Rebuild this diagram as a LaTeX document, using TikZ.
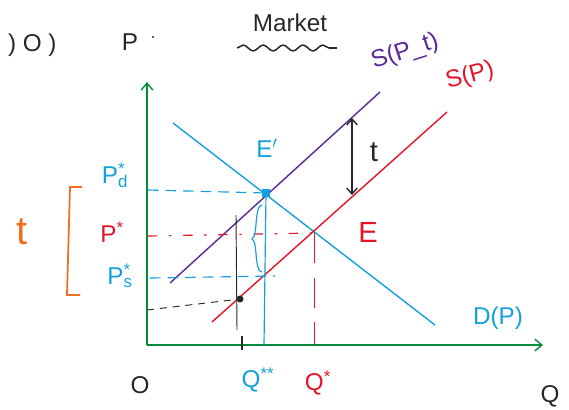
\documentclass[tikz,border=0pt]{standalone}
\usepackage{fontspec}
\setmainfont{Liberation Sans}
\usetikzlibrary{arrows.meta,decorations.pathmorphing,calc}
\definecolor{axgreen}{RGB}{0,140,60}
\definecolor{dblue}{RGB}{20,160,220}
\definecolor{spurple}{RGB}{90,40,150}
\definecolor{sred}{RGB}{230,20,40}
\definecolor{torange}{RGB}{240,110,30}
\definecolor{ink}{RGB}{40,40,40}
\tikzset{
  axis/.style={axgreen,line width=1.2pt,-{Straight Barb[length=6pt,width=10pt]}},
  curve/.style={line width=1.2pt},
  guide/.style={line width=1pt,dash pattern=on 9pt off 6pt},
  lbl/.style={inner sep=1pt,font=\huge},
}
\newcommand{\supsub}[2]{\rlap{\textsuperscript{#1}}\textsubscript{#2}}
\begin{document}
\begin{tikzpicture}[x=0.03cm,y=-0.03cm]
\useasboundingbox (0,0) rectangle (569,409);
% axes
\coordinate (O) at (147,345);
\coordinate (ytop) at (147,82);
\coordinate (xend) at (543,345);
\draw[axis] (O) -- (ytop);
\draw[axis] (O) -- (xend);
% curves
\coordinate (d1) at (173,123); \coordinate (d2) at (435,325);
\coordinate (st1) at (170,283); \coordinate (st2) at (380,92);
\coordinate (s1) at (212,322); \coordinate (s2) at (447,112);
\draw[curve,dblue] (d1) -- (d2);
\draw[curve,spurple] (st1) -- (st2);
\draw[curve,sred] (s1) -- (s2);
% points
\coordinate (Ep) at (266,193);
\coordinate (E) at (314,233);
\coordinate (B) at (240,299);
\fill[dblue] ($(Ep)+(-4,-4)$) rectangle ($(Ep)+(4,4)$);
\fill[ink] (B) circle (3.5);
% guides
\coordinate (yPd) at (148,190);
\coordinate (yP) at (148,236);
\coordinate (yPs) at (150,278);
\coordinate (yB) at (147,310);
\coordinate (xQ2) at (264,345);
\coordinate (xQ) at (314,345);
\coordinate (PsR) at (275,276);
\draw[guide,dblue] (yPd) -- (Ep);
\draw[sred,line width=1pt,dash pattern=on 8pt off 10pt on 2pt off 10pt] (yP) -- (E);
\draw[guide,dblue] (yPs) -- (PsR);
\draw[dblue,line width=1pt] (Ep) -- (xQ2);
\draw[sred,line width=0.8pt,dash pattern=on 26pt off 12pt] (E) -- (xQ);
\draw[ink,line width=0.8pt,dash pattern=on 6pt off 5pt] (yB) -- (B);
\draw[ink,line width=0.8pt] (236,215) -- (237,330);
\draw[ink,line width=2pt] (242,336) -- (242,350);
% brace
\draw[dblue,line width=1pt] (262,205) .. controls (254,205) and (258,237) .. (252,239) .. controls (258,241) and (254,272) .. (262,272);
% t arrow
\coordinate (ta) at (352,118); \coordinate (tb) at (352,195);
\draw[ink,line width=1.2pt,{Straight Barb[length=5pt,width=9pt]}-{Straight Barb[length=5pt,width=9pt]}] (ta) -- (tb);
\node[lbl,ink,font=\Huge] (tl) at (374,152) {t};
% orange bracket
\draw[torange,line width=1.5pt] (82,187) -- (70,187) -- (67,295) -- (80,295);
\node[lbl,torange,font=\fontsize{34}{36}\selectfont] (tt) at (22,232) {t};
% labels
\node[lbl,dblue] (lPd) at (115,175) {P\supsub{*}{d}};
\node[lbl,sred] (lP) at (112,232) {P\textsuperscript{*}};
\node[lbl,dblue] (lPs) at (120,276) {P\supsub{*}{s}};
\node[lbl,dblue] (lEp) at (267,148) {E$'$};
\node[lbl,sred,font=\Huge] (lE) at (368,232) {E};
\node[lbl,dblue] (lD) at (498,318) {D(P)};
\node[lbl,spurple,rotate=18] (lSt) at (405,52) {S(P\_t)};
\node[lbl,sred,rotate=15] (lS) at (470,76) {S(P)};
\node[lbl,ink] (lO) at (140,385) {O};
\node[lbl,dblue] (lQ2) at (258,380) {Q\textsuperscript{**}};
\node[lbl,sred] (lQ) at (318,383) {Q\textsuperscript{*}};
\node[lbl,ink] (lQx) at (550,396) {Q};
\node[lbl,ink] (lP0) at (130,42) {P};
\fill[ink] (153,37) circle (1.2);
\node[lbl,ink,anchor=east] (lL) at (58,45) {) O )};
\node[lbl,ink] (lM) at (290,23) {Market};
\draw[ink,line width=1.3pt,decorate,decoration={snake,amplitude=2.5pt,segment length=17pt}] (237,48) -- (337,48);
\end{tikzpicture}
\end{document}
